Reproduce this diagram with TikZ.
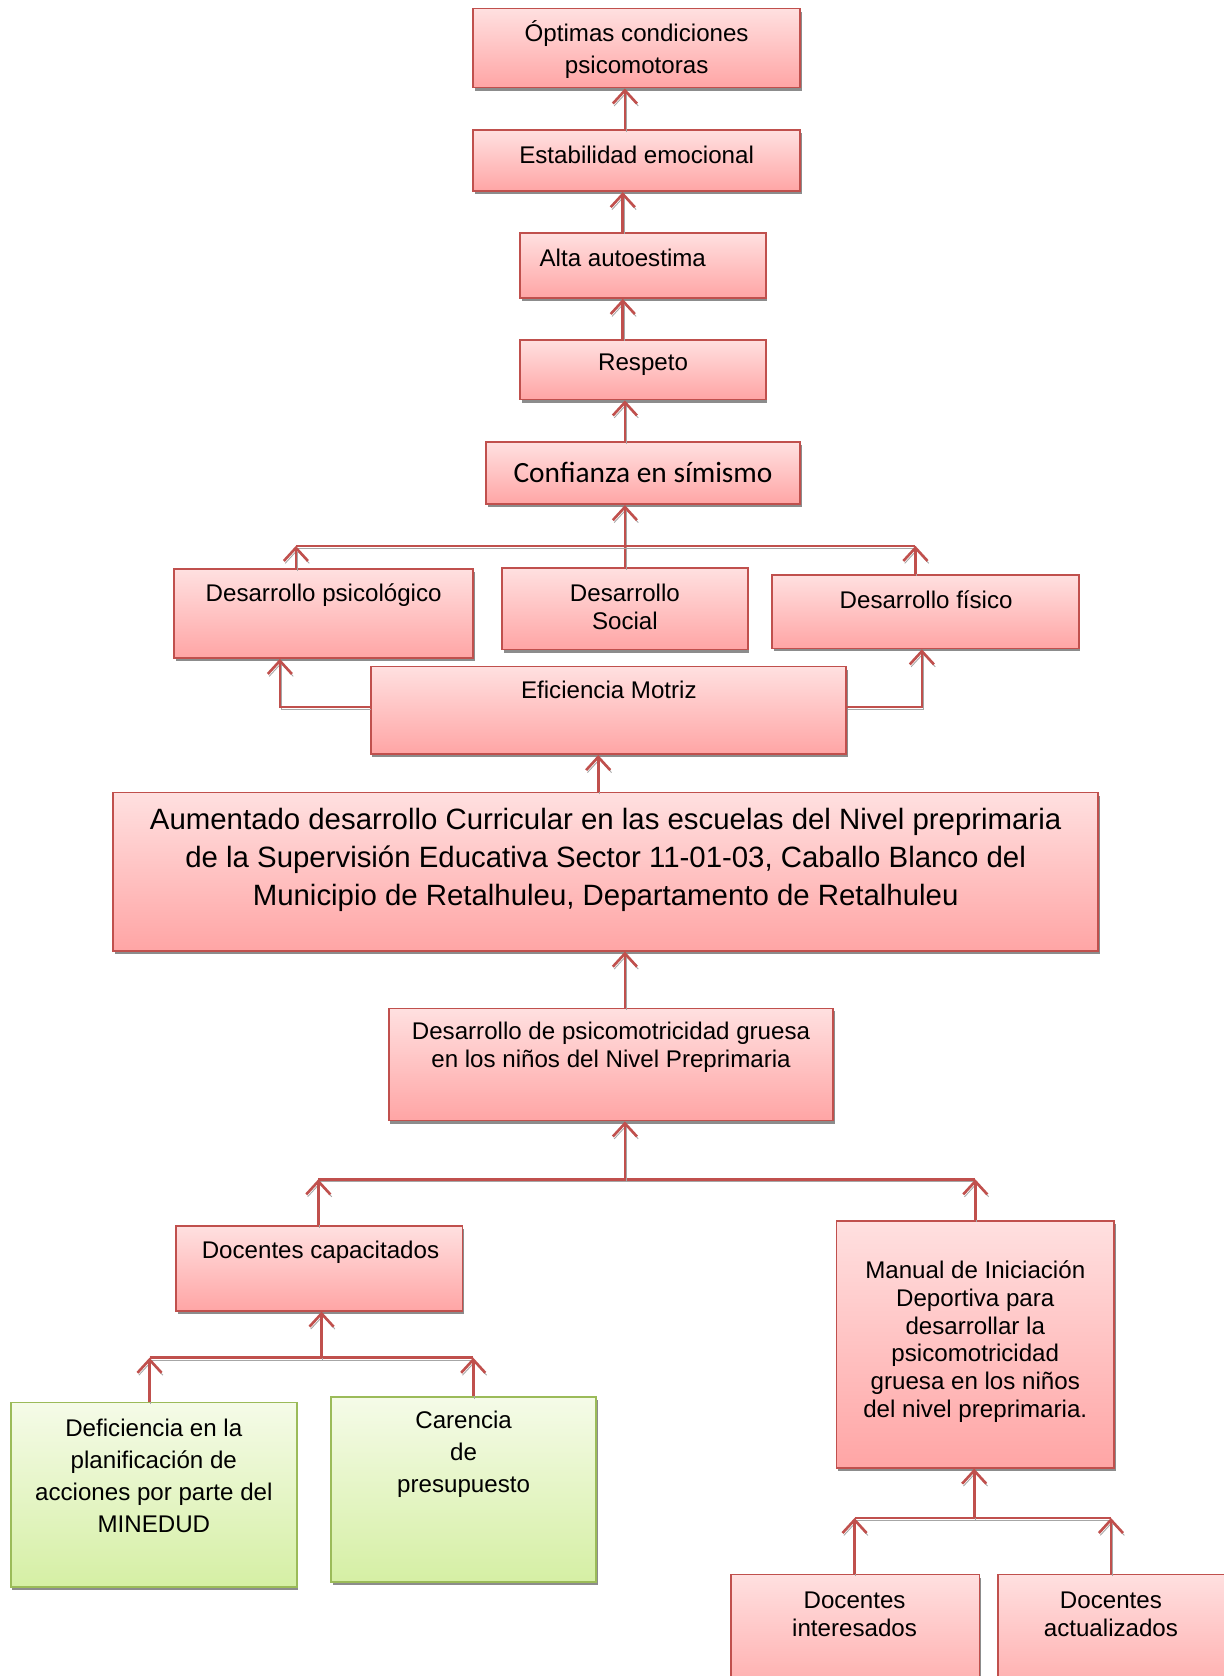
\documentclass[tikz,border=0pt]{standalone}
\usepackage{fontspec}
\setmainfont{Liberation Sans}
\newfontfamily\calibri{Carlito}
\usetikzlibrary{arrows.meta,fit,shadows}
\definecolor{borde}{HTML}{C0504D}
\definecolor{rosaA}{HTML}{FFE0E0}
\definecolor{rosaB}{HTML}{FFA5A5}
\definecolor{bordev}{HTML}{9BBB59}
\definecolor{verdeA}{HTML}{F5FBE8}
\definecolor{verdeB}{HTML}{D5EFA4}
\tikzset{
	caja/.style={draw=borde, line width=0.8pt, top color=rosaA, bottom color=rosaB, inner sep=0pt,
		drop shadow={shadow xshift=0.7pt, shadow yshift=-1.4pt, fill=black!45, opacity=1}},
	cajav/.style={caja, draw=bordev, top color=verdeA, bottom color=verdeB},
	texto/.style={align=center, inner sep=0pt, font=\fontsize{11}{12.7}\selectfont},
	barra/.style={draw=borde, line width=1.2pt,
		preaction={draw=black!35, transform canvas={shift={(0.6pt,-1.1pt)}}}},
	flecha/.style={barra, -{Straight Barb[length=6pt,width=11pt]}}
}
\begin{document}
\begin{tikzpicture}[x=0.01712cm, y=-0.01712cm]
	\useasboundingbox (0,0) rectangle (1145,1569);
	% cajas
	\node[caja, fit={(443,8) (749,82)}] (opt) {};
	\node[caja, fit={(443,122) (749,179)}] (est) {};
	\node[caja, fit={(487,218) (717,279)}] (alta) {};
	\node[caja, fit={(487,318) (717,374)}] (resp) {};
	\node[caja, fit={(455,414) (749,472)}] (conf) {};
	\node[caja, fit={(163,533) (443,616)}] (psi) {};
	\node[caja, fit={(470,532) (700,608)}] (soc) {};
	\node[caja, fit={(723,538) (1010,607)}] (fis) {};
	\node[caja, fit={(347,624) (792,706)}] (efi) {};
	\node[caja, fit={(106,742) (1028,890)}] (aum) {};
	\node[caja, fit={(364,944) (780,1049)}] (gru) {};
	\node[caja, fit={(165,1148) (433,1227)}] (cap) {};
	\node[caja, fit={(783,1143) (1043,1374)}] (man) {};
	\node[cajav, fit={(10,1313) (278,1486)}] (def) {};
	\node[cajav, fit={(310,1308) (558,1481)}] (car) {};
	\node[caja, fit={(684,1474) (917,1600)}] (int) {};
	\node[caja, fit={(934,1474) (1160,1600)}] (act) {};
	% textos
	\node[texto, font=\fontsize{11}{14.6}\selectfont] (optT) at (596,46) {Óptimas condiciones\\psicomotoras};
	\node[texto] (estT) at (596,145) {Estabilidad emocional};
	\node[texto] (altaT) at (583,241) {Alta autoestima};
	\node[texto] (respT) at (602,341) {Respeto};
	\node[texto, font=\calibri\fontsize{13.4}{16}\selectfont] (confT) at (602,442) {Confianza en símismo};
	\node[texto] (psiT) at (303,557) {Desarrollo psicológico};
	\node[texto] (socT) at (585,568) {Desarrollo\\Social};
	\node[texto] (fisT) at (867,561) {Desarrollo físico};
	\node[texto] (efiT) at (570,646) {Eficiencia Motriz};
	\node[texto, font=\fontsize{13.4}{17.5}\selectfont] (aumT) at (567,805) {Aumentado desarrollo Curricular en las escuelas del Nivel preprimaria\\de la Supervisión Educativa Sector 11-01-03, Caballo Blanco del\\Municipio de Retalhuleu, Departamento de Retalhuleu};
	\node[texto] (gruT) at (572,980) {Desarrollo de psicomotricidad gruesa\\en los niños del Nivel Preprimaria};
	\node[texto] (capT) at (300,1172) {Docentes capacitados};
	\node[texto] (manT) at (913,1256) {Manual de Iniciación\\Deportiva para\\desarrollar la\\psicomotricidad\\gruesa en los niños\\del nivel preprimaria.};
	\node[texto, font=\fontsize{11}{14.6}\selectfont] (defT) at (144,1382) {Deficiencia en la\\planificación de\\acciones por parte del\\MINEDUD};
	\node[texto, font=\fontsize{11}{14.6}\selectfont] (carT) at (434,1361) {Carencia\\de\\presupuesto};
	\node[texto] (intT) at (800,1511) {Docentes\\interesados};
	\node[texto] (actT) at (1040,1511) {Docentes\\actualizados};
	% flechas
	\draw[flecha] (est.north -| 585,0) -- (opt.south -| 585,0);
	\draw[flecha] (alta.north -| 583,0) -- (est.south -| 583,0);
	\draw[flecha] (resp.north -| 583,0) -- (alta.south -| 583,0);
	\draw[flecha] (conf.north -| 585,0) -- (resp.south -| 585,0);
	\draw[flecha] (soc.north -| 585,0) -- (conf.south -| 585,0);
	\coordinate (b1) at (277,511);
	\coordinate (b2) at (857,511);
	\draw[barra] (b1) -- (b2);
	\draw[flecha] (psi.north -| b1) -- (b1);
	\draw[flecha] (fis.north -| b2) -- (b2);
	\draw[flecha] (efi.west |- 0,662) -| (psi.south -| 262,0);
	\draw[flecha] (efi.east |- 0,662) -| (fis.south -| 863,0);
	\draw[flecha] (aum.north -| 560,0) -- (efi.south -| 560,0);
	\draw[flecha] (gru.north -| 585,0) -- (aum.south -| 585,0);
	\coordinate (c1) at (298,1104);
	\coordinate (c2) at (913,1104);
	\draw[barra] (c1) -- (c2);
	\draw[flecha] (585,1104) -- (gru.south -| 585,0);
	\draw[flecha] (cap.north -| c1) -- (c1);
	\draw[flecha] (man.north -| c2) -- (c2);
	\coordinate (d1) at (140,1271);
	\coordinate (d2) at (443,1271);
	\draw[barra] (d1) -- (d2);
	\draw[flecha] (301,1271) -- (cap.south -| 301,0);
	\draw[flecha] (def.north -| d1) -- (d1);
	\draw[flecha] (car.north -| d2) -- (d2);
	\coordinate (e1) at (800,1421);
	\coordinate (e2) at (1040,1421);
	\draw[barra] (e1) -- (e2);
	\draw[flecha] (912,1421) -- (man.south -| 912,0);
	\draw[flecha] (int.north -| e1) -- (e1);
	\draw[flecha] (act.north -| e2) -- (e2);
\end{tikzpicture}
\end{document}
